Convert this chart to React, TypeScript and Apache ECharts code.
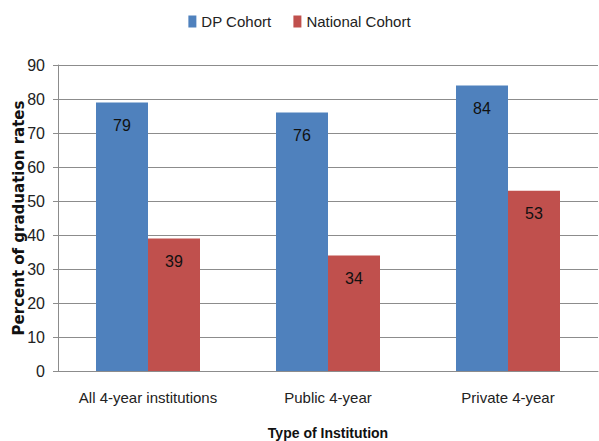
import React, { useEffect, useRef } from "react";
import * as echarts from "echarts";

const categories = ["All 4-year institutions", "Public 4-year", "Private 4-year"];
const dpCohort = [79, 76, 84];
const nationalCohort = [39, 34, 53];
const seriesNames = ["DP Cohort", "National Cohort"];
const yTitle = "Percent of graduation rates";
const xTitle = "Type of Institution";

const NARROW = "'Liberation Sans', Arial, sans-serif";

export default function App() {
  const ref = useRef<HTMLDivElement>(null);
  useEffect(() => {
    if (!ref.current) return;
    const chart = echarts.init(ref.current, undefined, { renderer: "svg" });
    const labelStyle = {
      show: true,
      position: "insideTop",
      distance: 15,
      fontFamily: NARROW,
      fontSize: 16,
      color: "#111",
    };
    chart.setOption({
      animation: false,
      backgroundColor: "#ffffff",
      legend: {
        top: 9,
        left: "center",
        itemWidth: 8,
        itemHeight: 12,
        itemGap: 22,
        icon: "rect",
        textStyle: { fontFamily: NARROW, fontSize: 15, color: "#222" },
        data: seriesNames,
      },
      grid: { left: 58, right: 1, top: 65, bottom: 70, containLabel: false, outerBoundsMode: "none" },
      xAxis: {
        type: "category",
        data: categories,
        name: xTitle,
        nameLocation: "middle",
        nameGap: 55,
        nameTextStyle: { fontFamily: NARROW, fontSize: 14, fontWeight: "bold", color: "#111" },
        axisLine: { show: true, lineStyle: { color: "#8c8c8c", width: 1 } },
        axisTick: { show: false },
        axisLabel: { fontFamily: NARROW, fontSize: 15, color: "#222", margin: 19, interval: 0 },
      },
      yAxis: {
        type: "value",
        min: 0,
        max: 90,
        interval: 10,
        name: yTitle,
        nameLocation: "middle",
        nameGap: 32,
        nameMoveOverlap: false,
        nameTextStyle: { fontFamily: "'DejaVu Sans', sans-serif", fontSize: 15, fontWeight: "bold", color: "#111" },
        axisLine: { show: true, lineStyle: { color: "#8c8c8c", width: 1 } },
        axisTick: { show: true, length: 5, lineStyle: { color: "#8c8c8c" } },
        axisLabel: { fontFamily: NARROW, fontSize: 16, color: "#222", margin: 13 },
        splitLine: { show: true, lineStyle: { color: "#8c8c8c", width: 1 } },
      },
      series: [
        {
          name: seriesNames[0],
          type: "bar",
          data: dpCohort,
          barWidth: 52,
          barGap: "0%",
          itemStyle: { color: "#4F81BD" },
          label: labelStyle,
        },
        {
          name: seriesNames[1],
          type: "bar",
          data: nationalCohort,
          barWidth: 52,
          barGap: "0%",
          itemStyle: { color: "#C0504D" },
          label: labelStyle,
        },
      ],
    });
    return () => chart.dispose();
  }, []);
  return <div ref={ref} style={{ width: 599, height: 441, position: "absolute", left: 0, top: 0 }} />;
}
